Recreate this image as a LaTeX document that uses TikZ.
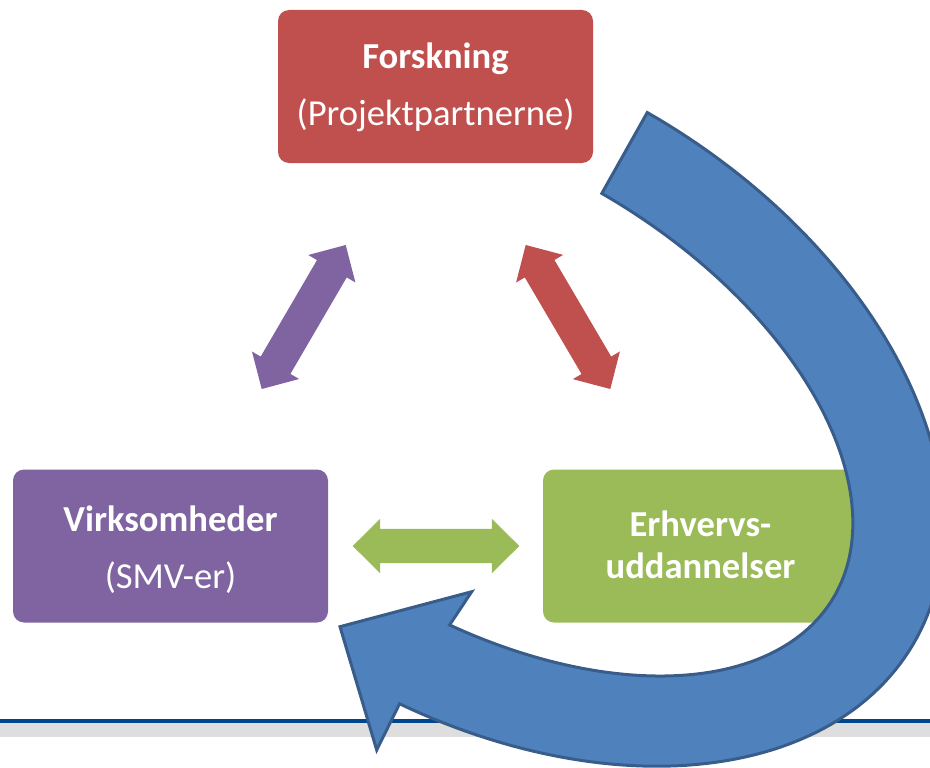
\documentclass[tikz,border=0pt]{standalone}
\usepackage{fontspec}
\setmainfont{Carlito}
\usetikzlibrary{calc}
\definecolor{redbox}{HTML}{C0504D}
\definecolor{purplebox}{HTML}{8064A2}
\definecolor{greenbox}{HTML}{9BBB59}
\definecolor{bluefill}{HTML}{4F81BD}
\definecolor{blueedge}{HTML}{385D8A}
\definecolor{rulecolor}{HTML}{00468E}
\definecolor{bandcolor}{HTML}{DEDEDE}
% block double arrow between two named coordinates
\newcommand{\dblarrow}[3]{%
  \coordinate (#1h) at ($(#1)!27.5pt!(#2)$);
  \coordinate (#2h) at ($(#2)!27.5pt!(#1)$);
  \fill[#3] (#1) -- ($(#1h)!27.3pt!90:(#1)$) -- ($(#1h)!17.2pt!90:(#1)$)
     -- ($(#2h)!17.2pt!-90:(#2)$) -- ($(#2h)!27.3pt!-90:(#2)$) -- (#2)
     -- ($(#2h)!27.3pt!90:(#2)$) -- ($(#2h)!17.2pt!90:(#2)$)
     -- ($(#1h)!17.2pt!-90:(#1)$) -- ($(#1h)!27.3pt!-90:(#1)$) -- cycle;}
\begin{document}
\begin{tikzpicture}[x=1pt,y=-1pt,
  box/.style={rounded corners=11pt, minimum width=315pt, minimum height=153pt, inner sep=0pt},
  lbl/.style={text=white, anchor=base, inner sep=0pt, font=\fontsize{36.6}{44}\selectfont},
  bolds/.style={lbl, font=\fontsize{36.6}{44}\selectfont\bfseries},
  bluearrow/.style={fill=bluefill, draw=blueedge, line width=3pt, line join=miter}]
\useasboundingbox (0,0) rectangle (930,768);
\clip (0,0) rectangle (930,768);
% footer rule
\fill[bandcolor] (0,723) rectangle (930,737);
\fill[rulecolor] (0,718.5) rectangle (930,723);
% boxes
\node[box, fill=redbox] (forsk) at (435.5,86.5) {};
\node[box, fill=purplebox] (virk) at (170.5,546) {};
\node[box, fill=greenbox] (erhv) at (700.5,546) {};
% texts
\node[bolds] (forsk1) at (435.5,68.5) {Forskning};
\node[lbl] (forsk2) at (435.5,125) {(Projektpartnerne)};
\node[bolds] (virk1) at (170.5,531) {Virksomheder};
\node[lbl] (virk2) at (170.5,588) {(SMV-er)};
\node[bolds] (erhv1) at (700.5,536.7) {Erhvervs-};
\node[bolds] (erhv2) at (700.5,578.3) {uddannelser};
% double arrows
\coordinate (pa) at (261.7,389);
\coordinate (pb) at (345.7,245);
\coordinate (ra) at (525.7,245);
\coordinate (rb) at (610.3,389);
\coordinate (ga) at (352.7,546);
\coordinate (gb) at (519.3,546);
\dblarrow{pa}{pb}{purplebox}
\dblarrow{ra}{rb}{redbox}
\dblarrow{ga}{gb}{greenbox}
% big curved arrow: band between two concentric rotated ellipses
\coordinate (lowbarb) at (376.7,750);
\coordinate (tip) at (340,626.7);
\coordinate (upbarb) at (471.7,591.7);
\path[bluearrow]
  plot[domain=-92.5:81, samples=120, variable=\t]
    ({499.2 + 483*cos(\t)*0.8535 - 319*sin(\t)*0.5210},
     {395.5 + 483*cos(\t)*0.5210 + 319*sin(\t)*0.8535})
  -- (lowbarb) -- (tip) -- (upbarb)
  -- plot[domain=78.6:-92.6, samples=120, variable=\t]
    ({499.2 + 390.7*cos(\t)*0.8535 - 226.2*sin(\t)*0.5210},
     {395.5 + 390.7*cos(\t)*0.5210 + 226.2*sin(\t)*0.8535})
  -- cycle;
\end{tikzpicture}
\end{document}
